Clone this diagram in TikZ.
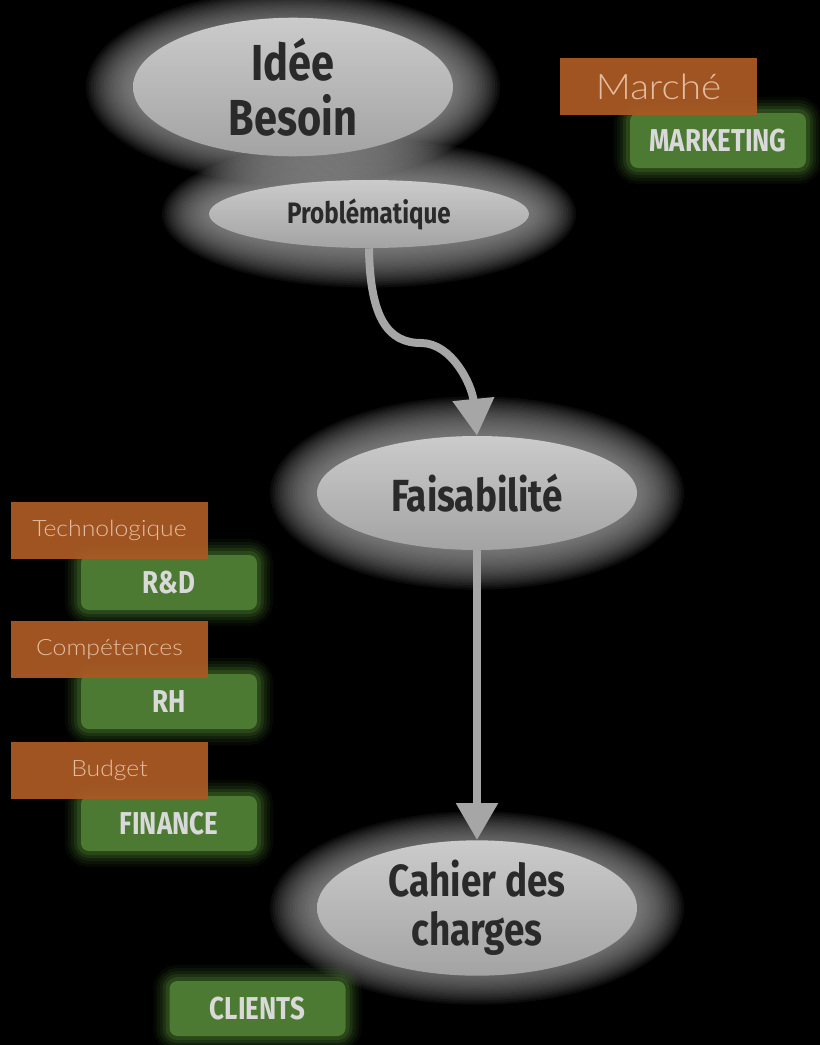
\documentclass[tikz,border=0pt]{standalone}
\usepackage{fontspec}
\usetikzlibrary{arrows.meta,positioning,shapes.geometric}

\newfontfamily\titrefont[FakeStretch=0.82]{Fira Sans}
\newfontfamily\finfont[FakeStretch=1.1]{Lato Light}

\definecolor{fondnoir}{HTML}{000000}
\definecolor{bulhaut}{HTML}{CBCBCB}
\definecolor{bulbas}{HTML}{A3A3A3}
\definecolor{encre}{HTML}{2A2A2A}
\definecolor{halogris}{HTML}{9E9E9E}
\definecolor{fleche}{HTML}{A6A6A6}
\definecolor{brique}{HTML}{A85924}
\definecolor{vert}{HTML}{4C7A32}
\definecolor{vertglow}{HTML}{5E9C3A}
\definecolor{texteclair}{HTML}{D9D9D9}
\definecolor{texteorange}{HTML}{EAC9AE}

\newcommand{\pxlen}[1]{#1*0.025cm}

\pgfdeclarelayer{fond}
\pgfdeclarelayer{halo}
\pgfsetlayers{fond,halo,main}

\tikzset{
  bulle/.style={ellipse, minimum width=\pxlen{320}, minimum height=\pxlen{114}, inner sep=0pt,
    top color=bulhaut, bottom color=bulbas, text=encre, align=center,
    font=\titrefont\bfseries\fontsize{32}{35}\selectfont},
  petitebulle/.style={bulle, minimum height=\pxlen{68},
    font=\titrefont\bfseries\fontsize{21}{24}\selectfont},
  service/.style={rectangle, rounded corners=\pxlen{8}, fill=vert, text=texteclair,
    minimum width=\pxlen{176}, minimum height=\pxlen{55}, inner sep=0pt,
    font=\titrefont\bfseries\fontsize{22.5}{25}\selectfont,
    preaction={draw=vertglow, line width=\pxlen{32}, draw opacity=0.06},
    preaction={draw=vertglow, line width=\pxlen{26}, draw opacity=0.08},
    preaction={draw=vertglow, line width=\pxlen{20}, draw opacity=0.1},
    preaction={draw=vertglow, line width=\pxlen{14}, draw opacity=0.14},
    preaction={draw=vertglow, line width=\pxlen{8}, draw opacity=0.2}},
  critere/.style={rectangle, fill=brique, fill opacity=0.95, text opacity=0.9, text=texteorange,
    minimum width=\pxlen{197}, minimum height=\pxlen{57}, inner sep=0pt,
    font=\finfont\fontsize{16}{18}\selectfont},
  halo/.style={fill=halogris, opacity=0.075},
  lien/.style={draw=fleche, line width=\pxlen{8}, -{Triangle[width=1cm, length=0.92cm]}},
}

\begin{document}
\begin{tikzpicture}[x=0.025cm, y=-0.025cm]
  \useasboundingbox (0,0) rectangle (820,1045);
  \begin{pgfonlayer}{fond}
    \fill[fondnoir] (0,0) rectangle (820,1045);
  \end{pgfonlayer}

  % les bulles du parcours
  \node[bulle, font=\titrefont\bfseries\fontsize{36}{39}\selectfont] (idee) at (293,87) {Idée\\Besoin};
  \node[petitebulle] (probl) at (369,214) {Problématique};
  \node[bulle] (faisa) at (477,493) {Faisabilité};
  \node[bulle] (cahier) at (477,908) {Cahier des\\charges};

  % halos autour des bulles
  \begin{pgfonlayer}{halo}
    \foreach \nom/\ry in {idee/57, probl/34, faisa/57, cahier/57}
      \foreach \k in {1,...,18}
        \fill[halo] (\nom.center) ellipse [x radius=162+\k*2.5, y radius=\ry+\k*2.2];
  \end{pgfonlayer}

  % services
  \node[service] (marketing) at (718,140.5) {MARKETING};
  \node[service] (rd) at (169,582.5) {R\&D};
  \node[service] (rh) at (169,701.5) {RH};
  \node[service] (finance) at (169,823.5) {FINANCE};
  \node[service] (clients) at (257.5,1008.5) {CLIENTS};

  % criteres
  \node[critere, font=\finfont\fontsize{25}{28}\selectfont] (marche) at (658.5,86.5) {Marché};
  \node[critere] (techno) at (109.5,530) {Technologique};
  \node[critere] (compet) at (109.5,649) {Compétences};
  \node[critere] (budget) at (109.5,770.5) {Budget};

  % fleches
  \coordinate (coude) at (421,343);
  \draw[lien] (probl.south) .. controls (370,318) and (388,343) .. (coude)
    .. controls (452,343) and (472,385) .. (faisa.north);
  \draw[lien] (faisa.south) -- (cahier.north);
\end{tikzpicture}
\end{document}
